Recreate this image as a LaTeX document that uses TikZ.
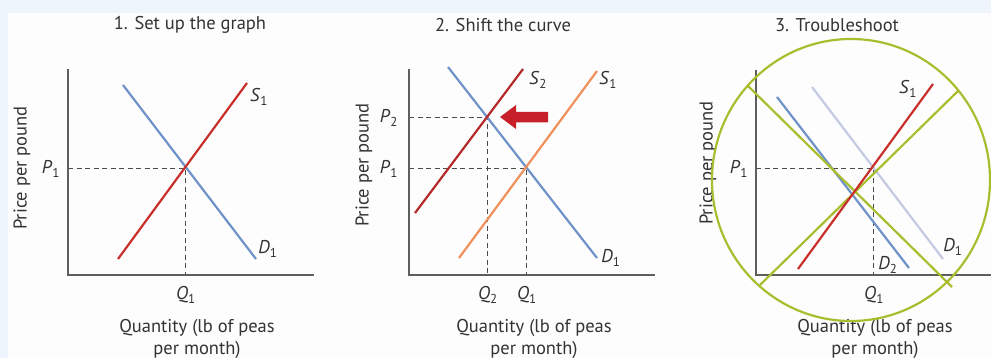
\documentclass[tikz,border=0pt]{standalone}
\usepackage{fontspec}
\setmainfont{PT Sans}
\definecolor{bgblue}{HTML}{EEF5FC}
\definecolor{bodyw}{HTML}{FDFDFD}
\definecolor{demblue}{HTML}{6F92C9}
\definecolor{supred}{HTML}{C9302C}
\definecolor{darkred}{HTML}{B52A2A}
\definecolor{suporange}{HTML}{F0905A}
\definecolor{lav}{HTML}{C5CAE3}
\definecolor{trgreen}{HTML}{A9BD2F}
\definecolor{axgray}{HTML}{5E5E5E}
\definecolor{txt}{HTML}{333333}
\definecolor{arrred}{HTML}{C8202A}
\newcommand{\lab}[2]{\textit{#1}\textsubscript{#2}}
\begin{document}
\begin{tikzpicture}[x=1pt,y=-1pt,
  txtstyle/.style={font=\fontsize{18.5}{22}\selectfont, text=txt, inner sep=0pt},
  titlestyle/.style={txtstyle},
  axislabel/.style={txtstyle, align=center},
  ylab/.style={txtstyle, rotate=90},
  curvelab/.style={txtstyle},
  axisline/.style={draw=axgray, line width=1.4pt},
  dashline/.style={draw=axgray!80!black, line width=0.9pt, dash pattern=on 5pt off 3.5pt},
  curve/.style={line width=2.2pt},
  greenline/.style={draw=trgreen, line width=2.2pt}
]
\useasboundingbox (0,0) rectangle (991,358);
\fill[bgblue] (0,0) rectangle (991,358);
\fill[bodyw] (8,13) rectangle (991,358);

% ---------------- Panel 1 ----------------
\node[titlestyle] (t1) at (190,25) {1. Set up the graph};
\coordinate (ytopA) at (68,69);
\coordinate (oA) at (68,275);
\coordinate (xendA) at (314,275);
\coordinate (pA) at (68,168);
\coordinate (eA) at (185,168);
\coordinate (qA) at (185,275);
\draw[dashline] (pA) -- (eA) -- (qA);
\draw[axisline] (ytopA) -- (oA) -- (xendA);
\coordinate (dAa) at (123,85);
\coordinate (dAb) at (256,259);
\coordinate (sAa) at (118,259);
\coordinate (sAb) at (247,83);
\draw[curve, demblue] (dAa) -- (dAb);
\draw[curve, supred] (sAa) -- (sAb);
\node[curvelab] (lsA) at (259,97) {\lab{S}{1}};
\node[curvelab] (ldA) at (268,249) {\lab{D}{1}};
\node[curvelab] (lpA) at (51,169) {\lab{P}{1}};
\node[curvelab] (lqA) at (186,295) {\lab{Q}{1}};
\node[axislabel] (xlA) at (197,339) {Quantity (lb of peas\\per month)};
\node[ylab] (ylA) at (22,168) {Price per pound};

% ---------------- Panel 2 ----------------
\node[titlestyle] (t2) at (503,25) {2. Shift the curve};
\coordinate (ytopB) at (409,69);
\coordinate (oB) at (409,275);
\coordinate (xendB) at (655,275);
\coordinate (p2B) at (409,117);
\coordinate (e2B) at (487,117);
\coordinate (q2B) at (487,275);
\coordinate (p1B) at (409,168);
\coordinate (e1B) at (526,168);
\coordinate (q1B) at (526,275);
\draw[dashline] (p2B) -- (e2B) -- (q2B);
\draw[dashline] (p1B) -- (e1B) -- (q1B);
\draw[axisline] (ytopB) -- (oB) -- (xendB);
\coordinate (dBa) at (448,67);
\coordinate (dBb) at (597,258);
\coordinate (s2Ba) at (415,213);
\coordinate (s2Bb) at (523,69);
\coordinate (s1Ba) at (459,258);
\coordinate (s1Bb) at (597,71);
\draw[curve, demblue] (dBa) -- (dBb);
\draw[curve, suporange] (s1Ba) -- (s1Bb);
\draw[curve, darkred] (s2Ba) -- (s2Bb);
\fill[arrred] (500,117) -- (516,105) -- (516,112) -- (548,112) -- (548,122.5) -- (516,122.5) -- (516,129) -- cycle;
\node[curvelab] (ls2B) at (538,80) {\lab{S}{2}};
\node[curvelab] (ls1B) at (608,80) {\lab{S}{1}};
\node[curvelab] (ldB) at (611,258) {\lab{D}{1}};
\node[curvelab] (lp2B) at (389,118) {\lab{P}{2}};
\node[curvelab] (lp1B) at (389,169) {\lab{P}{1}};
\node[curvelab] (lq2B) at (488,295) {\lab{Q}{2}};
\node[curvelab] (lq1B) at (527,295) {\lab{Q}{1}};
\node[axislabel] (xlB) at (534,339) {Quantity (lb of peas\\per month)};
\node[ylab] (ylB) at (364,165) {Price per pound};

% ---------------- Panel 3 ----------------
\node[titlestyle] (t3) at (837,25) {3. Troubleshoot};
\coordinate (ytopC) at (756,70);
\coordinate (oC) at (756,275);
\coordinate (xendC) at (991,275);
\coordinate (pC) at (756,168);
\coordinate (eC) at (873,168);
\coordinate (qC) at (873,275);
\node[curvelab] (lpC) at (739,169) {\lab{P}{1}};
\node[curvelab] (lqC) at (874,295) {\lab{Q}{1}};
\node[axislabel] (xlC) at (875,339) {Quantity (lb of peas\\per month)};
\node[ylab] (ylC) at (708,163) {Price per pound};
\draw[dashline] (pC) -- (eC) -- (qC);
\draw[axisline] (ytopC) -- (oC) -- (xendC);
\coordinate (d1Ca) at (812,87);
\coordinate (d1Cb) at (943,259);
\coordinate (d2Ca) at (777,97);
\coordinate (d2Cb) at (909,268);
\coordinate (sCa) at (798,269);
\coordinate (sCb) at (933,84);
\draw[curve, lav] (d1Ca) -- (d1Cb);
\draw[curve, demblue] (d2Ca) -- (d2Cb);
\coordinate (g1a) at (747,85);
\coordinate (g1b) at (952,287);
\coordinate (g2a) at (760,285);
\coordinate (g2b) at (958,91);
\draw[greenline] (g1a) -- (g1b);
\draw[greenline] (g2a) -- (g2b);
\draw[curve, supred] (sCa) -- (sCb);
\coordinate (cC) at (851,180);
\draw[greenline] (cC) ellipse [x radius=139, y radius=141];
\node[curvelab] (lsC) at (908,89) {\lab{S}{1}};
\node[curvelab] (ld1C) at (953,247) {\lab{D}{1}};
\node[curvelab] (ld2C) at (888,265) {\lab{D}{2}};
\end{tikzpicture}
\end{document}
